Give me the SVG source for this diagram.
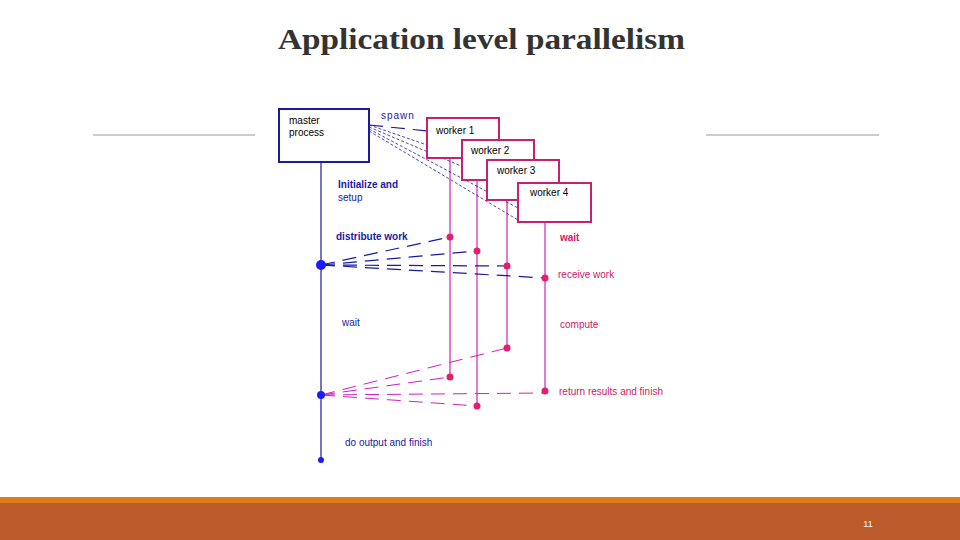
<svg xmlns="http://www.w3.org/2000/svg" width="960" height="540" viewBox="0 0 960 540">
<style>
.b{fill:#1a1aa0;font-family:"Liberation Sans",Arial,sans-serif;font-size:10px}
.m{fill:#d0206a;font-family:"Liberation Sans",Arial,sans-serif;font-size:10px}
.k{fill:#000;font-family:"Liberation Sans",Arial,sans-serif;font-size:10px}
.bl{stroke:#1a1aa0;stroke-width:1.2;fill:none}
.ml{stroke:#d020c0;stroke-width:1.2;fill:none}
.bd{stroke:#1a1aa0;stroke-width:1.2;stroke-dasharray:14 8;fill:none}
.md{stroke:#d020c0;stroke-width:1;stroke-dasharray:14 8;fill:none}
.wb{fill:#fff;stroke:#c8206e;stroke-width:2}
</style>
<rect width="960" height="540" fill="#fff"/>
<text x="278" y="49" textLength="407" lengthAdjust="spacingAndGlyphs" font-family="Liberation Serif,serif" font-weight="bold" font-size="29" fill="#333">Application level parallelism</text>
<line x1="93" y1="135" x2="255" y2="135" stroke="#999"/>
<line x1="706" y1="135" x2="879" y2="135" stroke="#999"/>
<rect x="0" y="497" width="960" height="7" fill="#e07b1a"/>
<rect x="0" y="503" width="960" height="37" fill="#bb5a2a"/>
<text x="868" y="527" text-anchor="middle" font-family="Liberation Sans,sans-serif" font-size="9" fill="#fff">11</text>
<g id="connectors">
<line class="bl" x1="321" y1="162" x2="321" y2="460"/>
<line class="ml" x1="450" y1="158" x2="450" y2="377"/>
<line class="ml" x1="477" y1="180" x2="477" y2="406"/>
<line class="ml" x1="507" y1="200" x2="507" y2="348"/>
<line class="ml" x1="545" y1="222" x2="545" y2="391"/>
<line class="bd" x1="369" y1="125" x2="427" y2="131"/>
<g stroke="#1a1aa0" stroke-width="0.8" stroke-dasharray="3 2" fill="none">
<line x1="369" y1="125" x2="462" y2="157"/>
<line x1="369" y1="127" x2="487" y2="177"/>
<line x1="369" y1="129" x2="518" y2="208"/>
<line x1="369" y1="131" x2="518" y2="220"/>
</g>
<line class="bd" x1="321" y1="265" x2="450" y2="237"/>
<line class="bd" x1="321" y1="265" x2="477" y2="251"/>
<line class="bd" x1="321" y1="265" x2="507" y2="266"/>
<line class="bd" x1="321" y1="265" x2="545" y2="278"/>
<line class="md" x1="321" y1="395" x2="507" y2="348"/>
<line class="md" x1="321" y1="395" x2="450" y2="377"/>
<line class="md" x1="321" y1="395" x2="545" y2="393"/>
<line class="md" x1="321" y1="395" x2="477" y2="406"/>
</g>
<g id="master">
<rect x="279" y="109" width="90" height="53" fill="#fff" stroke="#1a1aa0" stroke-width="2"/>
<text class="k" x="289" y="124">master</text>
<text class="k" x="289" y="136">process</text>
</g>
<g id="worker1"><rect class="wb" x="427" y="118" width="72" height="40"/><text class="k" x="436" y="134">worker 1</text></g>
<g id="worker2"><rect class="wb" x="462" y="140" width="72" height="40"/><text class="k" x="471" y="154">worker 2</text></g>
<g id="worker3"><rect class="wb" x="487" y="160" width="72" height="40"/><text class="k" x="497" y="174">worker 3</text></g>
<g id="worker4"><rect class="wb" x="518" y="183" width="73" height="39"/><text class="k" x="530" y="196">worker 4</text></g>
<g id="dots">
<circle cx="321" cy="265" r="5" fill="#1a1aff"/>
<circle cx="321" cy="395" r="4" fill="#1a1aff"/>
<circle cx="321" cy="460" r="3" fill="#1a1aff"/>
<g fill="#e0206a">
<circle cx="450" cy="237" r="3.5"/><circle cx="477" cy="251" r="3.5"/><circle cx="507" cy="266" r="3.5"/><circle cx="545" cy="278" r="3.5"/>
<circle cx="507" cy="348" r="3.5"/><circle cx="450" cy="377" r="3.5"/><circle cx="545" cy="391" r="3.5"/><circle cx="477" cy="406" r="3.5"/>
</g>
</g>
<g id="labels">
<text class="b" x="381" y="119" letter-spacing="1">spawn</text>
<text class="b" x="338" y="188" font-weight="bold">Initialize and</text>
<text class="b" x="338" y="201">setup</text>
<text class="b" x="336" y="240" font-weight="bold">distribute work</text>
<text class="b" x="342" y="326">wait</text>
<text class="b" x="345" y="446">do output and finish</text>
<text class="m" x="560" y="241" font-weight="bold">wait</text>
<text class="m" x="558" y="278">receive work</text>
<text class="m" x="560" y="328">compute</text>
<text class="m" x="559" y="395">return results and finish</text>
</g>
</svg>
